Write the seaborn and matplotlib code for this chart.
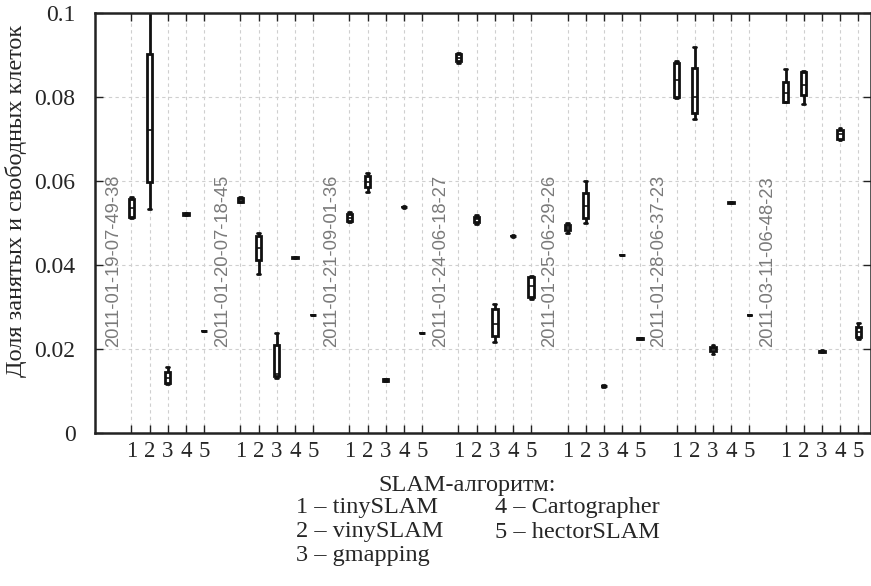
import numpy as np
import pandas as pd
import matplotlib
matplotlib.use("Agg")
import matplotlib.pyplot as plt
import seaborn as sns

datasets = ["2011-01-19-07-49-38", "2011-01-20-07-18-45", "2011-01-21-09-01-36",
            "2011-01-24-06-18-27", "2011-01-25-06-29-26", "2011-01-28-06-37-23",
            "2011-03-11-06-48-23"]
algorithms = ["1", "2", "3", "4", "5"]
legend_names = ["1 – tinySLAM", "2 – vinySLAM", "3 – gmapping",
                "4 – Cartographer", "5 – hectorSLAM"]

# five-number summaries, one row per dataset, one column per algorithm
whisker_low = [
    [0.0512, 0.0533, 0.0117, 0.0518, 0.0242],
    [0.0549, 0.0379, 0.0130, 0.0416, 0.0280],
    [0.0502, 0.0575, 0.0124, 0.0536, 0.0237],
    [0.0881, 0.0498, 0.0217, 0.0467, 0.0320],
    [0.0476, 0.0500, 0.0110, 0.0423, 0.0225],
    [0.0798, 0.0748, 0.0188, 0.0547, 0.0280],
    [0.0788, 0.0783, 0.0194, 0.0698, 0.0225],
]
quart1 = [
    [0.0515, 0.0598, 0.0120, 0.0519, 0.0242],
    [0.0550, 0.0412, 0.0135, 0.0416, 0.0280],
    [0.0505, 0.0585, 0.0125, 0.0537, 0.0237],
    [0.0885, 0.0502, 0.0231, 0.0468, 0.0324],
    [0.0483, 0.0512, 0.0111, 0.0423, 0.0225],
    [0.0800, 0.0762, 0.0195, 0.0547, 0.0280],
    [0.0788, 0.0805, 0.0194, 0.0700, 0.0229],
]
median = [
    [0.0535, 0.0721, 0.0132, 0.0521, 0.0243],
    [0.0555, 0.0440, 0.0140, 0.0417, 0.0281],
    [0.0513, 0.0598, 0.0126, 0.0538, 0.0238],
    [0.0893, 0.0509, 0.0260, 0.0469, 0.0350],
    [0.0489, 0.0540, 0.0112, 0.0424, 0.0226],
    [0.0840, 0.0800, 0.0200, 0.0548, 0.0281],
    [0.0810, 0.0829, 0.0195, 0.0711, 0.0240],
]
quart3 = [
    [0.0558, 0.0902, 0.0145, 0.0523, 0.0244],
    [0.0560, 0.0470, 0.0210, 0.0418, 0.0282],
    [0.0522, 0.0612, 0.0128, 0.0539, 0.0239],
    [0.0902, 0.0515, 0.0295, 0.0470, 0.0372],
    [0.0495, 0.0571, 0.0113, 0.0425, 0.0227],
    [0.0881, 0.0869, 0.0205, 0.0549, 0.0282],
    [0.0836, 0.0860, 0.0196, 0.0722, 0.0252],
]
whisker_high = [
    [0.0562, 0.1050, 0.0157, 0.0524, 0.0244],
    [0.0561, 0.0476, 0.0238, 0.0418, 0.0282],
    [0.0526, 0.0619, 0.0129, 0.0540, 0.0239],
    [0.0905, 0.0519, 0.0307, 0.0471, 0.0374],
    [0.0500, 0.0600, 0.0114, 0.0425, 0.0227],
    [0.0886, 0.0919, 0.0210, 0.0549, 0.0282],
    [0.0867, 0.0862, 0.0197, 0.0726, 0.0262],
]

# long table: five values per box reproduce the summary exactly
rows = []
order = []
for g, ds in enumerate(datasets):
    order.append(f"gap{g}")
    for a, alg in enumerate(algorithms):
        slot = f"{g}_{alg}"
        order.append(slot)
        for stat in (whisker_low, quart1, median, quart3, whisker_high):
            rows.append({"slot": slot, "value": stat[g][a]})
df = pd.DataFrame(rows)

sns.set_style("ticks")
plt.rcParams["font.family"] = ["Liberation Serif", "DejaVu Serif"]

fig = plt.figure(figsize=(8.71, 5.86), dpi=100)
ax = fig.add_axes([95 / 871, 153 / 586, 776 / 871, 420 / 586])

sns.boxplot(data=df, x="slot", y="value", order=order, whis=(0, 100),
            showfliers=False, width=0.3, color="white", linecolor="#111111",
            linewidth=2.0, ax=ax,
            medianprops={"color": "#111111", "linewidth": 1.2})

tick_pos = [i for i, s in enumerate(order) if not s.startswith("gap")]
ax.set_xticks(tick_pos)
ax.set_xticklabels([s.split("_")[1] for s in order if not s.startswith("gap")])
ax.set_xlim(-1.0, 41.7)
ax.set_ylim(0, 0.1)
yt = [0, 0.02, 0.04, 0.06, 0.08, 0.1]
ax.set_yticks(yt)
ax.set_yticklabels(["0", "0.02", "0.04", "0.06", "0.08", "0.1"])

ax.grid(True, color="#cfcfcf", linestyle=(0, (3, 3)), linewidth=0.8)
ax.set_axisbelow(True)
ax.tick_params(direction="in", length=6, width=1.0, top=True, right=True,
               labelsize=16.5, color="#222222", pad=6)
ax.tick_params(axis="y", pad=14, labelsize=17)
for side in ("left", "bottom", "top", "right"):
    ax.spines[side].set_linewidth(1.8)
    ax.spines[side].set_color("#222222")

ax.set_xlabel("")
ax.set_ylabel("Доля занятых и свободных клеток", fontsize=17.5)
ax.yaxis.set_label_coords(-0.088, 0.552)

for g, ds in enumerate(datasets):
    ax.text(order.index(f"gap{g}"), 0.0205, ds, rotation=90, ha="center",
            va="bottom", color="#7a7a7a", fontsize=13.2,
            family=["Liberation Sans", "DejaVu Sans"])

fig.text(467 / 871, 1 - 485 / 586, "SLAM-алгоритм:", ha="center", va="center", fontsize=17.5)
line_y = [1 - 508 / 586, 1 - 532 / 586, 1 - 555 / 586]
for i, name in enumerate(legend_names):
    col = i // 3
    fig.text((296 if col == 0 else 495) / 871, line_y[i % 3], name,
             ha="left", va="center", fontsize=17.5)

fig.savefig("out.png", dpi=100)
